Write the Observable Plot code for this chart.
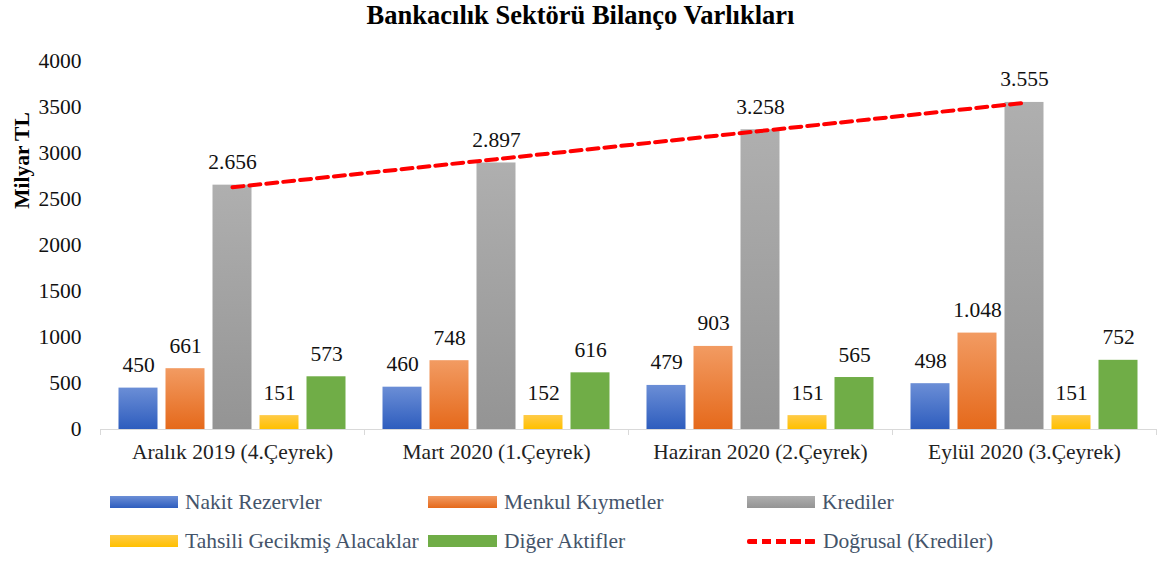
<!DOCTYPE html>
<html><head><meta charset="utf-8">
<script src="https://cdn.jsdelivr.net/npm/d3@7"></script>
<script src="https://cdn.jsdelivr.net/npm/@observablehq/plot@0.6"></script>
<style>
body{margin:0;width:1161px;height:561px;position:relative;background:#fff;font-family:"Liberation Serif","Times New Roman",serif;overflow:hidden}
#title{position:absolute;left:0;top:0px;width:1161px;text-align:center;font-weight:bold;font-size:26.5px;line-height:30px;color:#000;font-family:"Liberation Serif","Times New Roman",serif}
#chart{position:absolute;left:0;top:30px}
.leg{position:absolute;display:flex;align-items:center;font-size:21.5px;color:#44546A;height:26px;line-height:26px;white-space:nowrap;font-family:"Liberation Serif","Times New Roman",serif}
.sw{height:12px;margin-right:7px;flex:none}
</style></head>
<body>
<svg width="0" height="0" style="position:absolute">
<defs>
<linearGradient id="g0" x1="0" y1="0" x2="0" y2="1"><stop offset="0" stop-color="#6B8ED6"/><stop offset="1" stop-color="#2E5DBE"/></linearGradient>
<linearGradient id="g1" x1="0" y1="0" x2="0" y2="1"><stop offset="0" stop-color="#F29B62"/><stop offset="1" stop-color="#E5691B"/></linearGradient>
<linearGradient id="g2" x1="0" y1="0" x2="0" y2="1"><stop offset="0" stop-color="#AFAFAF"/><stop offset="1" stop-color="#949494"/></linearGradient>
<linearGradient id="g3" x1="0" y1="0" x2="0" y2="1"><stop offset="0" stop-color="#FFCB47"/><stop offset="1" stop-color="#FFC000"/></linearGradient>
<linearGradient id="g4" x1="0" y1="0" x2="0" y2="1"><stop offset="0" stop-color="#70AD47"/><stop offset="1" stop-color="#70AD47"/></linearGradient>
</defs></svg>
<div id="title">Bankacılık Sektörü Bilanço Varlıkları</div>
<div id="chart"></div>
<div id="legend"></div>
<script>
const groups = ["Aralık 2019 (4.Çeyrek)", "Mart 2020 (1.Çeyrek)", "Haziran 2020 (2.Çeyrek)", "Eylül 2020 (3.Çeyrek)"];
const seriesNames = ["Nakit Rezervler", "Menkul Kıymetler", "Krediler", "Tahsili Gecikmiş Alacaklar", "Diğer Aktifler"];
const nakitRezervler = [450, 460, 479, 498];
const menkulKiymetler = [661, 748, 903, 1048];
const krediler = [2656, 2897, 3258, 3555];
const tahsiliGecikmis = [151, 152, 151, 151];
const digerAktifler = [573, 616, 565, 752];
const yTicks = [0, 500, 1000, 1500, 2000, 2500, 3000, 3500, 4000];
const trendName = "Doğrusal (Krediler)";
const yLabel = "Milyar TL";

const seriesValues = [nakitRezervler, menkulKiymetler, krediler, tahsiliGecikmis, digerAktifler];
const gradIds = ["g0", "g1", "g2", "g3", "g4"];
const cssGrad = [
  "linear-gradient(#6B8ED6,#2E5DBE)", "linear-gradient(#F29B62,#E5691B)",
  "linear-gradient(#AFAFAF,#949494)", "linear-gradient(#FFCB47,#FFC000)", "#70AD47"
];

const trLocale = d3.formatLocale({decimal: ",", thousands: ".", grouping: [3], currency: ["", " TL"]});
const fmt = trLocale.format(",");

// linear trend (least squares) of Krediler, like Excel's "Doğrusal" trendline
const xs = krediler.map((_, i) => i + 1);
const mx = d3.mean(xs), my = d3.mean(krediler);
const slope = d3.sum(xs, (x, i) => (x - mx) * (krediler[i] - my)) / d3.sum(xs, x => (x - mx) ** 2);
const intercept = my - slope * mx;
const trendRows = groups.map((g, i) => ({group: g, value: intercept + slope * xs[i]}));

const barW = 39, step = 47, band = 264;
const FS = 21.5;
const marks = [];
seriesValues.forEach((vals, si) => {
  const rows = groups.map((g, gi) => ({group: g, value: vals[gi]}));
  marks.push(Plot.barY(rows, {
    x: "group", y: "value", dx: (si - 2) * step,
    insetLeft: (band - barW) / 2, insetRight: (band - barW) / 2,
    fill: `url(#${gradIds[si]})`
  }));
});
marks.push(Plot.ruleY([0], {stroke: "#d9d9d9", strokeWidth: 1}));
marks.push(Plot.ruleX(groups, {x: d => d, dx: -band / 2, y1: 0, y2: 0, insetBottom: -6, stroke: "#d9d9d9"}));
marks.push(Plot.ruleX([groups[groups.length - 1]], {x: d => d, dx: band / 2, y1: 0, y2: 0, insetBottom: -6, stroke: "#d9d9d9"}));
marks.push(Plot.line(trendRows, {x: "group", y: "value", stroke: "#FF0000", strokeWidth: 4, strokeDasharray: "11,6"}));
seriesValues.forEach((vals, si) => {
  const rows = groups.map((g, gi) => ({group: g, value: vals[gi]}));
  marks.push(Plot.text(rows, {
    x: "group", y: "value", text: d => fmt(d.value), dx: (si - 2) * step, dy: -16,
    lineAnchor: "bottom", fontSize: FS, fill: "#111"
  }));
});
marks.push(Plot.axisY(yTicks, {tickSize: 0, tickPadding: 19, label: null, fontSize: FS, fill: "#111", tickFormat: d => String(d)}));
marks.push(Plot.axisX({tickSize: 0, tickPadding: 14, label: null, fontSize: FS, fill: "#222"}));
marks.push(Plot.text([yLabel], {frameAnchor: "top-left", dx: -78, dy: 99, rotate: -90, fontWeight: "bold", fontSize: FS, textAnchor: "middle", lineAnchor: "middle", fill: "#000"}));

const chart = Plot.plot({
  width: 1161, height: 450,
  marginTop: 31, marginBottom: 51, marginLeft: 100, marginRight: 5,
  style: {fontFamily: '"Liberation Serif","Times New Roman",serif', fontSize: FS + "px", color: "#111", background: "transparent"},
  x: {domain: groups, padding: 0, axis: null},
  y: {domain: [0, 4000], axis: null},
  marks
});
document.getElementById("chart").appendChild(chart);

// legend
const legend = document.getElementById("legend");
const legItems = [
  {name: seriesNames[0], left: 110, top: 489, sw: cssGrad[0], w: 68},
  {name: seriesNames[1], left: 428, top: 489, sw: cssGrad[1], w: 69},
  {name: seriesNames[2], left: 747, top: 489, sw: cssGrad[2], w: 68},
  {name: seriesNames[3], left: 110, top: 528, sw: cssGrad[3], w: 68},
  {name: seriesNames[4], left: 428, top: 528, sw: cssGrad[4], w: 69},
  {name: trendName, left: 747, top: 528, dash: true, w: 69}
];
legItems.forEach(it => {
  const d = document.createElement("div");
  d.className = "leg";
  d.style.left = it.left + "px";
  d.style.top = it.top + "px";
  const s = document.createElement("div");
  s.className = "sw";
  s.style.width = it.w + "px";
  if (it.dash) {
    s.style.height = "5px";
    s.style.background = "repeating-linear-gradient(90deg,#FF0000 0 10px,transparent 10px 14.5px)";
    s.style.borderRadius = "2px";
  } else {
    s.style.background = it.sw;
  }
  const t = document.createElement("span");
  t.textContent = it.name;
  d.appendChild(s); d.appendChild(t);
  legend.appendChild(d);
});
</script>
</body></html>
